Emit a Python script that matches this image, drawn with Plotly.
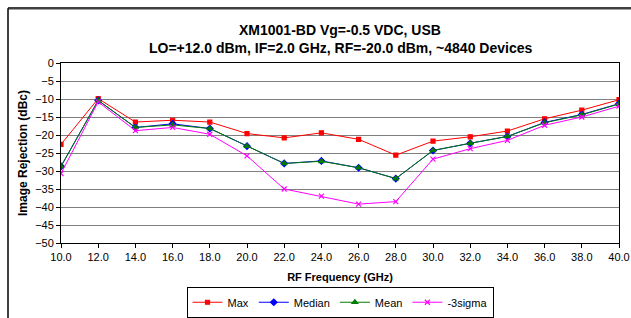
import plotly.graph_objects as go

freq = [10, 12, 14, 16, 18, 20, 22, 24, 26, 28, 30, 32, 34, 36, 38, 40]
max_v = [-22.6, -9.9, -16.4, -15.9, -16.4, -19.6, -20.8, -19.4, -21.2, -25.6, -21.7, -20.5, -18.9, -15.5, -13.1, -10.2]
median_v = [-28.7, -10.4, -17.9, -16.9, -18.2, -23.1, -27.9, -27.2, -29.1, -32.1, -24.3, -22.3, -20.4, -16.5, -14.3, -11.3]
mean_v = [-28.7, -10.4, -17.9, -17.2, -18.2, -23.1, -27.9, -27.3, -29.1, -32.1, -24.3, -22.3, -20.4, -16.6, -14.4, -11.4]
sigma3_v = [-30.7, -10.8, -18.8, -17.9, -19.8, -25.8, -35.0, -37.0, -39.2, -38.5, -26.7, -23.8, -21.5, -17.3, -15.0, -12.0]
x_ticks = [10, 12, 14, 16, 18, 20, 22, 24, 26, 28, 30, 32, 34, 36, 38, 40]
x_ticktext = ["%.1f" % v for v in x_ticks]
y_ticks = [0, -5, -10, -15, -20, -25, -30, -35, -40, -45, -50]

FONT = "Liberation Sans, Arial, sans-serif"

fig = go.Figure()
series = [
    ("Max", max_v, "#FF0000", "square", 4),
    ("Median", median_v, "#0000FF", "diamond", 5),
    ("Mean", mean_v, "#007A00", "triangle-up", 5),
    ("-3sigma", sigma3_v, "#FF00FF", "x-thin", 5),
]
for name, vals, col, sym, sz in series:
    fig.add_trace(go.Scatter(
        x=freq, y=vals, name=name, mode="lines+markers",
        line=dict(color=col, width=1),
        marker=dict(symbol=sym, size=sz, color=col, line=dict(color=col, width=1.2)),
    ))

fig.update_layout(
    width=631, height=318,
    margin=dict(l=61, r=12, t=63, b=75, autoexpand=False),
    paper_bgcolor="white", plot_bgcolor="white",
    font=dict(family=FONT, size=11, color="black"),
    showlegend=True,
    legend=dict(orientation="h", x=0.5, xanchor="center", y=-0.243, yanchor="top",
                bordercolor="black", borderwidth=1, font=dict(size=11),
                itemwidth=30, tracegroupgap=0),
    xaxis=dict(range=[10, 40], tickvals=x_ticks, ticktext=x_ticktext,
               showgrid=False, zeroline=False, showline=True, linecolor="black", linewidth=1,
               ticks="outside", ticklen=4, tickcolor="black", mirror=True,
               title=dict(text="<b>RF Frequency (GHz)</b>", font=dict(size=11), standoff=11)),
    yaxis=dict(range=[-50, 0], tickvals=y_ticks, showgrid=True, gridcolor="#7F7F7F", gridwidth=1,
               zeroline=False, showline=True, linecolor="black", linewidth=1, mirror=True,
               ticks="outside", ticklen=4, tickcolor="black",
               title=dict(text="<b>Image Rejection (dBc)</b>", font=dict(size=12), standoff=4)),
    annotations=[
        dict(text="<b>XM1001-BD Vg=-0.5 VDC, USB</b>", xref="paper", yref="paper",
             x=0.5, y=1 + (62.7 - 30) / 180, xanchor="center", yanchor="middle",
             showarrow=False, font=dict(size=14)),
        dict(text="<b>LO=+12.0 dBm, IF=2.0 GHz, RF=-20.0 dBm, ~4840 Devices</b>", xref="paper", yref="paper",
             x=0.5, y=1 + (62.7 - 48) / 180, xanchor="center", yanchor="middle",
             showarrow=False, font=dict(size=14)),
    ],
    shapes=[
        dict(type="line", xref="paper", yref="paper", x0=(8 - 61) / 558, x1=(640 - 61) / 558,
             y0=1 + (62.7 - 8) / 180, y1=1 + (62.7 - 8) / 180, line=dict(color="#404040", width=2.5)),
        dict(type="line", xref="paper", yref="paper", x0=(8 - 61) / 558, x1=(8 - 61) / 558,
             y0=1 + (62.7 - 8) / 180, y1=(242.7 - 330) / 180, line=dict(color="black", width=1.5)),
    ],
)

fig.write_html("out.html", config={"displayModeBar": False},
               post_script="document.body.style.margin='0';document.body.style.overflow='hidden';")
